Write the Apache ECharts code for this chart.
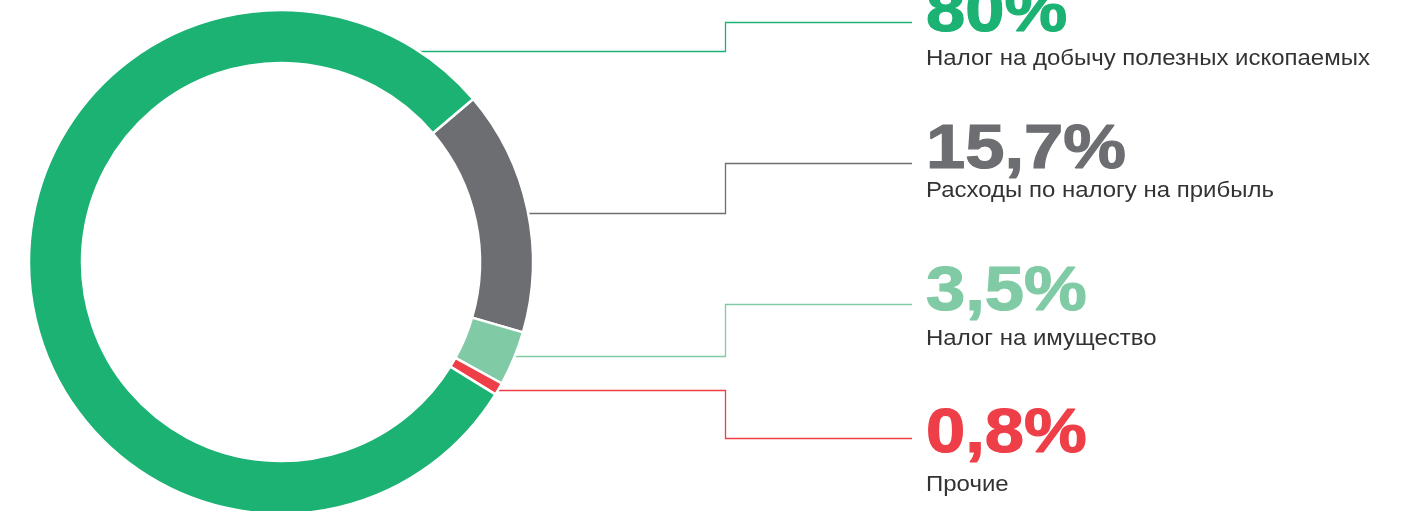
<!DOCTYPE html>
<html><head><meta charset="utf-8">
<script src="https://cdn.jsdelivr.net/npm/echarts@6/dist/echarts.min.js"></script>
<style>html,body{margin:0;padding:0;background:#fff;overflow:hidden}#c{width:1411px;height:511px}</style>
</head><body><div id="c"></div>
<script>
// ---- data ----
const categories = ['Расходы по налогу на прибыль', 'Налог на имущество', 'Прочие', 'Налог на добычу полезных ископаемых'];
const values = [15.7, 3.5, 0.8, 80];
const valueLabels = ['15,7%', '3,5%', '0,8%', '80%'];

// ---- styles / layout ----
const colors = ['#6D6E71', '#80CBA5', '#EE3E47', '#1BB273'];
const anchorFrac = [0.513, 0.45, 0.55, 0.943];
const lineY = [163.5, 304.5, 438.5, 22.5];
const bigBaseline = [173, 315, 457, 36];
const subBaseline = [197, 345, 491, 65];
const elbowX = 725.5, lineEndX = 912, textX = 926;
const bigFont = 63, subFont = 22;

const chart = echarts.init(document.getElementById('c'), null, { renderer: 'canvas' });
chart.setOption({
  animation: false,
  series: [{
    type: 'pie',
    center: [281, 262],
    radius: [199, 252],
    startAngle: 40.3,
    clockwise: true,
    silent: true,
    label: { show: false },
    labelLine: { show: false },
    itemStyle: { borderColor: '#fff', borderWidth: 2.5 },
    data: categories.map((n, i) => ({ name: n, value: values[i], itemStyle: { color: colors[i] } }))
  }]
});

const seriesData = chart.getModel().getSeriesByIndex(0).getData();
const graphics = [];
categories.forEach((name, i) => {
  const L = seriesData.getItemLayout(i);
  const a = L.startAngle + (L.endAngle - L.startAngle) * anchorFrac[i];
  const px = L.cx + (L.r - 2) * Math.cos(a);
  const py = Math.round(L.cy + L.r * Math.sin(a)) + 0.5;
  graphics.push({
    type: 'polyline', silent: true,
    shape: { points: [[px, py], [elbowX, py], [elbowX, lineY[i]], [lineEndX, lineY[i]]] },
    style: { stroke: colors[i], lineWidth: 1.3, fill: null }
  });
  graphics.push({
    type: 'text', silent: true, x: textX, y: bigBaseline[i] - 0.36 * bigFont, scaleX: 1.12,
    style: { text: valueLabels[i], fill: colors[i], stroke: colors[i], lineWidth: 1.2, font: 'bold ' + bigFont + 'px "Liberation Sans", Arial, sans-serif', align: 'left', verticalAlign: 'middle' }
  });
  graphics.push({
    type: 'text', silent: true, x: textX, y: subBaseline[i] - 0.36 * subFont + 1.5, scaleX: 1.09,
    style: { text: name, fill: '#333333', font: subFont + 'px "Liberation Sans", Arial, sans-serif', align: 'left', verticalAlign: 'middle' }
  });
});
chart.setOption({ graphic: graphics });
</script>
</body></html>
